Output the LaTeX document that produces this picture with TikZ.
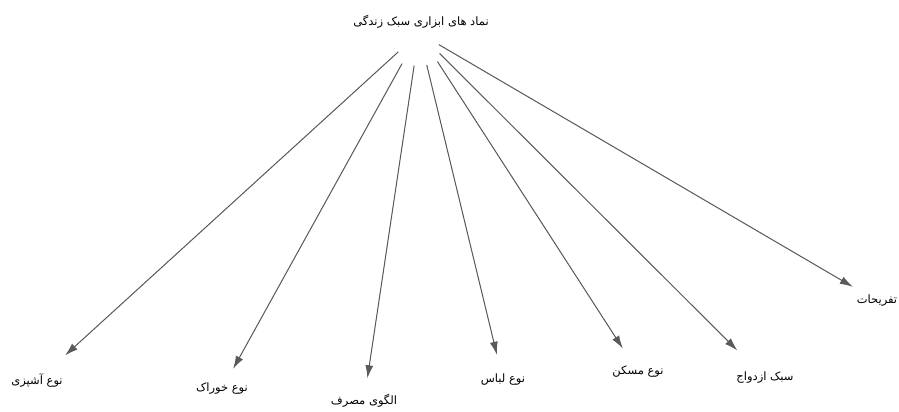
\documentclass[tikz,border=0pt]{standalone}
\usepackage{fontspec}
\usepackage{tikz}
\usetikzlibrary{arrows.meta,positioning}
\TeXXeTstate=1
\newfontfamily\arabicfont[Script=Arabic]{DejaVu Sans}
\newcommand{\fatxt}[1]{\beginR#1\endR}
\definecolor{linegray}{RGB}{90,90,90}

\begin{document}
\begin{tikzpicture}[
  x=1pt, y=-1pt,
  font=\arabicfont\fontsize{11.5}{13}\selectfont,
  title/.style={inner sep=1pt, align=center},
  leaf/.style={inner sep=1pt, align=center},
  arrow/.style={-{Latex[length=13pt, width=8pt]}, draw=linegray, fill=linegray, line width=1pt}
]
\useasboundingbox (0,0) rectangle (899,412);

\node[title] (root) at (421,22) {\fatxt{نماد های ابزاری سبک زندگی}};
\coordinate (hub) at (419,33);

\node[leaf] (cook) at (37,381) {\fatxt{نوع آشپزی}};
\node[leaf] (food) at (222,389) {\fatxt{نوع خوراک}};
\node[leaf] (consume) at (364,401) {\fatxt{الگوی مصرف}};
\node[leaf] (cloth) at (503,380) {\fatxt{نوع لباس}};
\node[leaf] (house) at (638,372) {\fatxt{نوع مسکن}};
\node[leaf] (marry) at (765,378) {\fatxt{سبک ازدواج}};
\node[leaf] (leisure) at (877,301) {\fatxt{تفریحات}};

% fan of arrows from below the title
\draw[arrow, shorten <=28pt, shorten >=38pt] (hub) -- (cook.center);
\draw[arrow, shorten <=35pt, shorten >=23pt] (hub) -- (food.center);
\draw[arrow, shorten <=33pt, shorten >=23pt] (hub) -- (consume.center);
\draw[arrow, shorten <=33pt, shorten >=26pt] (hub) -- (cloth.center);
\draw[arrow, shorten <=34pt, shorten >=28pt] (hub) -- (house.center);
\draw[arrow, shorten <=29pt, shorten >=39pt] (hub) -- (marry.center);
\draw[arrow, shorten <=23pt, shorten >=28pt] (hub) -- (leisure.center);
\end{tikzpicture}
\end{document}
